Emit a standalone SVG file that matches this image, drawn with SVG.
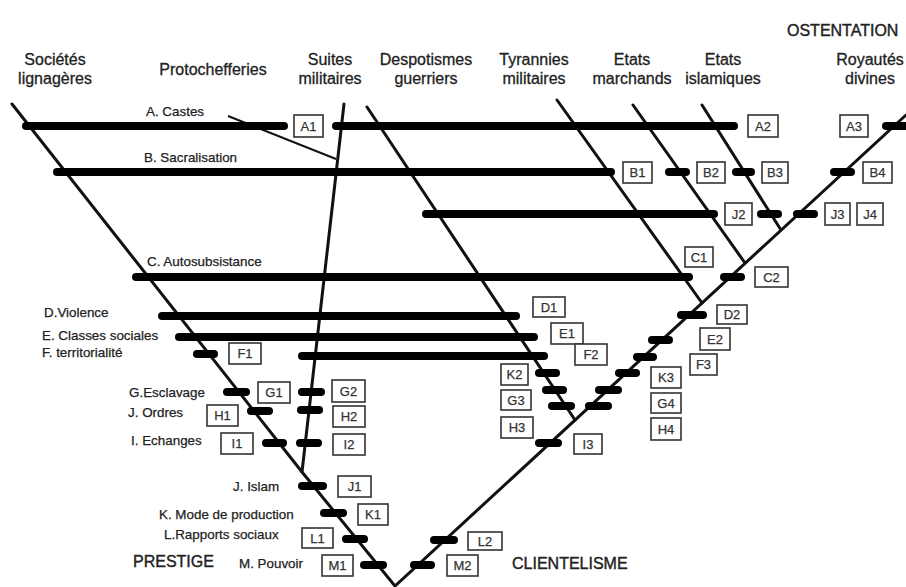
<svg xmlns="http://www.w3.org/2000/svg" width="906" height="587" viewBox="0 0 906 587">
<style>
.hd{font-family:"Liberation Sans",Arial,sans-serif;font-size:16px;fill:#222;stroke:#222;stroke-width:0.3;text-anchor:middle}
.big{font-family:"Liberation Sans",Arial,sans-serif;font-size:16px;fill:#222;stroke:#222;stroke-width:0.4}
.lb{font-family:"Liberation Sans",Arial,sans-serif;font-size:13.4px;fill:#222;stroke:#222;stroke-width:0.25}
.bx rect{fill:#fff;stroke:#333;stroke-width:1.6}
.bx text{font-family:"Liberation Sans",Arial,sans-serif;font-size:13px;fill:#333;stroke:#333;stroke-width:0.25;text-anchor:middle}
.tr{stroke:#111;stroke-width:3;fill:none;stroke-linecap:round;stroke-linejoin:round}
.th{stroke:#111;stroke-width:2;fill:none}
.bar{stroke:#000;stroke-width:8;stroke-linecap:round}
</style>
<rect width="906" height="587" fill="#fff"/>
<g id="headers">
<text class="hd" x="55" y="65">Sociétés</text><text class="hd" x="55" y="84">lignagères</text>
<text class="hd" x="213" y="75">Protochefferies</text>
<text class="hd" x="330" y="65">Suites</text><text class="hd" x="330" y="84">militaires</text>
<text class="hd" x="426" y="65">Despotismes</text><text class="hd" x="426" y="84">guerriers</text>
<text class="hd" x="534" y="65">Tyrannies</text><text class="hd" x="534" y="84">militaires</text>
<text class="hd" x="632" y="65">Etats</text><text class="hd" x="632" y="84">marchands</text>
<text class="hd" x="723" y="65">Etats</text><text class="hd" x="723" y="84">islamiques</text>
<text class="hd" x="870" y="65">Royautés</text><text class="hd" x="870" y="84">divines</text>
<text class="big" x="787" y="36">OSTENTATION</text>
<text class="big" x="133" y="567">PRESTIGE</text>
<text class="big" x="512" y="569">CLIENTELISME</text>
</g>
<g id="labels">
<text class="lb" x="146" y="116">A. Castes</text>
<text class="lb" x="144" y="162">B. Sacralisation</text>
<text class="lb" x="147" y="266">C. Autosubsistance</text>
<text class="lb" x="44" y="317">D.Violence</text>
<text class="lb" x="42" y="340">E. Classes sociales</text>
<text class="lb" x="42" y="357">F. territorialité</text>
<text class="lb" x="129" y="397">G.Esclavage</text>
<text class="lb" x="128" y="417">J. Ordres</text>
<text class="lb" x="131" y="445">I. Echanges</text>
<text class="lb" x="233" y="491">J. Islam</text>
<text class="lb" x="159" y="519">K. Mode de production</text>
<text class="lb" x="164" y="539">L.Rapports sociaux</text>
<text class="lb" x="239" y="568">M. Pouvoir</text>
</g>
<g id="connectors">
<polyline class="tr" points="12,104 302,472 395,586 906,115"/>
<line class="tr" x1="344" y1="104" x2="302" y2="472"/>
<line class="tr" x1="367" y1="107" x2="575" y2="420"/>
<line class="tr" x1="557" y1="100" x2="702" y2="303"/>
<line class="tr" x1="633" y1="105" x2="745" y2="263"/>
<line class="tr" x1="702" y1="105" x2="781" y2="230"/>
<line class="th" x1="228" y1="116" x2="336" y2="159"/>
<g id="bars">
<line class="bar" x1="26" y1="126" x2="284" y2="126"/>
<line class="bar" x1="336" y1="126" x2="734" y2="126"/>
<line class="bar" x1="886" y1="126" x2="910" y2="126"/>
<line class="bar" x1="57" y1="172" x2="611" y2="172"/>
<line class="bar" x1="669" y1="172" x2="686" y2="172"/>
<line class="bar" x1="736" y1="172" x2="751" y2="172"/>
<line class="bar" x1="834" y1="172" x2="851" y2="172"/>
<line class="bar" x1="426" y1="214" x2="714" y2="214"/>
<line class="bar" x1="761" y1="214" x2="778" y2="214"/>
<line class="bar" x1="797" y1="214" x2="814" y2="214"/>
<line class="bar" x1="136" y1="277" x2="689" y2="277"/>
<line class="bar" x1="724" y1="277" x2="741" y2="277"/>
<line class="bar" x1="162" y1="316" x2="516" y2="316"/>
<line class="bar" x1="681" y1="315" x2="703" y2="315"/>
<line class="bar" x1="179" y1="337" x2="534" y2="337"/>
<line class="bar" x1="652" y1="340" x2="669" y2="340"/>
<line class="bar" x1="197" y1="354" x2="214" y2="354"/>
<line class="bar" x1="302" y1="356" x2="544" y2="356"/>
<line class="bar" x1="637" y1="357" x2="653" y2="357"/>
<line class="bar" x1="539" y1="373" x2="556" y2="373"/>
<line class="bar" x1="619" y1="373" x2="636" y2="373"/>
<line class="bar" x1="227" y1="392" x2="246" y2="392"/>
<line class="bar" x1="302" y1="392" x2="321" y2="392"/>
<line class="bar" x1="546" y1="390" x2="563" y2="390"/>
<line class="bar" x1="599" y1="390" x2="618" y2="390"/>
<line class="bar" x1="251" y1="411" x2="269" y2="411"/>
<line class="bar" x1="301" y1="410" x2="319" y2="410"/>
<line class="bar" x1="552" y1="406" x2="571" y2="406"/>
<line class="bar" x1="589" y1="406" x2="608" y2="406"/>
<line class="bar" x1="266" y1="443" x2="283" y2="443"/>
<line class="bar" x1="300" y1="443" x2="318" y2="443"/>
<line class="bar" x1="539" y1="443" x2="558" y2="443"/>
<line class="bar" x1="302" y1="486" x2="323" y2="486"/>
<line class="bar" x1="324" y1="513" x2="343" y2="513"/>
<line class="bar" x1="346" y1="539" x2="364" y2="539"/>
<line class="bar" x1="434" y1="540" x2="454" y2="540"/>
<line class="bar" x1="364" y1="565" x2="383" y2="565"/>
<line class="bar" x1="414" y1="565" x2="431" y2="565"/>
</g>
</g>
<g id="A1" class="bx"><rect x="294" y="115" width="29" height="22"/><text x="308.5" y="130.5">A1</text></g>
<g id="A2" class="bx"><rect x="748" y="115" width="30" height="22"/><text x="763" y="130.5">A2</text></g>
<g id="A3" class="bx"><rect x="840" y="115" width="28" height="22"/><text x="854" y="130.5">A3</text></g>
<g id="B1" class="bx"><rect x="623" y="162" width="29" height="21"/><text x="637.5" y="177">B1</text></g>
<g id="B2" class="bx"><rect x="697" y="162" width="28" height="21"/><text x="711" y="177">B2</text></g>
<g id="B3" class="bx"><rect x="762" y="162" width="26" height="21"/><text x="775" y="177">B3</text></g>
<g id="B4" class="bx"><rect x="863" y="162" width="29" height="21"/><text x="877.5" y="177">B4</text></g>
<g id="J2" class="bx"><rect x="725" y="203" width="27" height="22"/><text x="738.5" y="218.5">J2</text></g>
<g id="J3" class="bx"><rect x="825" y="203" width="25" height="22"/><text x="837.5" y="218.5">J3</text></g>
<g id="J4" class="bx"><rect x="857" y="203" width="26" height="22"/><text x="870" y="218.5">J4</text></g>
<g id="C1" class="bx"><rect x="685" y="247" width="28" height="20"/><text x="699" y="261.5">C1</text></g>
<g id="C2" class="bx"><rect x="755" y="267" width="33" height="20"/><text x="771.5" y="281.5">C2</text></g>
<g id="D1" class="bx"><rect x="533" y="297" width="32" height="20"/><text x="549" y="311.5">D1</text></g>
<g id="D2" class="bx"><rect x="717" y="305" width="30" height="19"/><text x="732" y="319">D2</text></g>
<g id="E1" class="bx"><rect x="551" y="323" width="32" height="21"/><text x="567" y="338">E1</text></g>
<g id="E2" class="bx"><rect x="700" y="328" width="30" height="22"/><text x="715" y="343.5">E2</text></g>
<g id="F1" class="bx"><rect x="229" y="343" width="32" height="21"/><text x="245" y="358">F1</text></g>
<g id="F2" class="bx"><rect x="575" y="344" width="32" height="21"/><text x="591" y="359">F2</text></g>
<g id="F3" class="bx"><rect x="690" y="354" width="27" height="21"/><text x="703.5" y="369">F3</text></g>
<g id="K2" class="bx"><rect x="501" y="364" width="27" height="21"/><text x="514.5" y="379">K2</text></g>
<g id="K3" class="bx"><rect x="651" y="367" width="30" height="21"/><text x="666" y="382">K3</text></g>
<g id="G1" class="bx"><rect x="258" y="382" width="32" height="21"/><text x="274" y="397">G1</text></g>
<g id="G2" class="bx"><rect x="332" y="380" width="33" height="22"/><text x="348.5" y="395.5">G2</text></g>
<g id="G3" class="bx"><rect x="501" y="390" width="30" height="20"/><text x="516" y="404.5">G3</text></g>
<g id="G4" class="bx"><rect x="651" y="393" width="30" height="20"/><text x="666" y="407.5">G4</text></g>
<g id="H1" class="bx"><rect x="207" y="405" width="31" height="21"/><text x="222.5" y="420">H1</text></g>
<g id="H2" class="bx"><rect x="333" y="406" width="32" height="21"/><text x="349" y="421">H2</text></g>
<g id="H3" class="bx"><rect x="501" y="417" width="32" height="21"/><text x="517" y="432">H3</text></g>
<g id="H4" class="bx"><rect x="651" y="418" width="30" height="22"/><text x="666" y="433.5">H4</text></g>
<g id="I1" class="bx"><rect x="221" y="433" width="32" height="21"/><text x="237" y="448">I1</text></g>
<g id="I2" class="bx"><rect x="333" y="434" width="32" height="21"/><text x="349" y="449">I2</text></g>
<g id="I3" class="bx"><rect x="574" y="434" width="28" height="20"/><text x="588" y="448.5">I3</text></g>
<g id="J1" class="bx"><rect x="338" y="476" width="33" height="21"/><text x="354.5" y="491">J1</text></g>
<g id="K1" class="bx"><rect x="358" y="504" width="30" height="21"/><text x="373" y="519">K1</text></g>
<g id="L1" class="bx"><rect x="302" y="528" width="31" height="20"/><text x="317.5" y="542.5">L1</text></g>
<g id="L2" class="bx"><rect x="468" y="532" width="34" height="18"/><text x="485" y="545.5">L2</text></g>
<g id="M1" class="bx"><rect x="322" y="555" width="31" height="21"/><text x="337.5" y="570">M1</text></g>
<g id="M2" class="bx"><rect x="447" y="555" width="31" height="21"/><text x="462.5" y="570">M2</text></g>
</svg>
